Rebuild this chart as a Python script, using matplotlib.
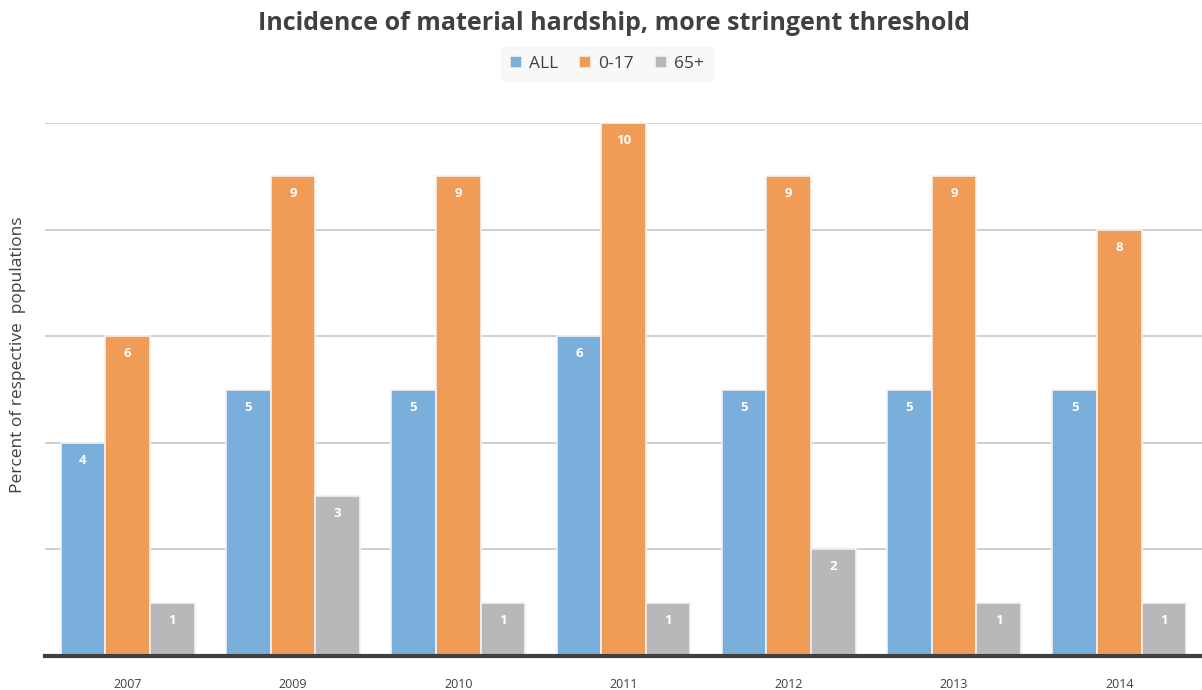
import matplotlib
matplotlib.use("Agg")
import matplotlib.pyplot as plt
import numpy as np

years = ["2007", "2009", "2010", "2011", "2012", "2013", "2014"]
series_names = ["ALL", "0-17", "65+"]
all_ages = [4, 5, 5, 6, 5, 5, 5]
children = [6, 9, 9, 10, 9, 9, 8]
seniors = [1, 3, 1, 1, 2, 1, 1]
colors = ["#7aafdc", "#f09c56", "#b8b8b8"]

plt.rcParams["font.family"] = ["Open Sans", "DejaVu Sans"]

fig = plt.figure(figsize=(12.02, 6.90), dpi=100)
ax = fig.add_axes([45 / 1202, 34 / 690, 1157 / 1202, 533 / 690])

x = np.arange(len(years))
bw = 0.27
values = [all_ages, children, seniors]
for i, (name, vals, col) in enumerate(zip(series_names, values, colors)):
    pos = x + (i - 1) * bw
    bars = ax.bar(pos, vals, width=bw, color=col, edgecolor="#f2f2f2",
                  linewidth=1.2, label=name, zorder=3)
    for b, v in zip(bars, vals):
        ax.text(b.get_x() + b.get_width() / 2, v - 0.33, str(v),
                ha="center", va="center", color="white",
                fontsize=9.5, fontweight="bold", zorder=4)

ax.set_xlim(-0.5, len(years) - 0.5)
ax.set_ylim(0, 10)
ax.set_yticks([2, 4, 6, 8, 10])
ax.yaxis.grid(True, color="#c8c8c8", linewidth=1.2, zorder=0)
ax.set_axisbelow(True)
ax.tick_params(axis="y", left=False, labelleft=False)
ax.tick_params(axis="x", bottom=False, labelsize=9, labelcolor="#404040", pad=12)
ax.set_xticks(x)
ax.set_xticklabels(years)
for s in ["top", "right", "left"]:
    ax.spines[s].set_visible(False)
ax.spines["bottom"].set_color("#404040")
ax.spines["bottom"].set_linewidth(3)
ax.spines["bottom"].set_zorder(5)

ax.set_ylabel("Percent of respective  populations", fontsize=12.5, color="#404040")
ax.yaxis.set_label_coords(-(45 - 26) / 1157, (656 - 355) / 533)

fig.text(614 / 1202, 1 - 24 / 690, "Incidence of material hardship, more stringent threshold",
         ha="center", va="center", fontsize=18, fontweight="bold", color="#404040")

leg = fig.legend(loc="center", bbox_to_anchor=(607 / 1202, 1 - 64 / 690), ncol=3,
                 frameon=True, fontsize=12.5, handlelength=0.7, handleheight=0.7,
                 handletextpad=0.4, columnspacing=1.2, borderpad=0.5)
leg.get_frame().set_facecolor("#f7f7f7")
leg.get_frame().set_edgecolor("#f7f7f7")
for t in leg.get_texts():
    t.set_color("#404040")

fig.savefig("out.png", dpi=100)
